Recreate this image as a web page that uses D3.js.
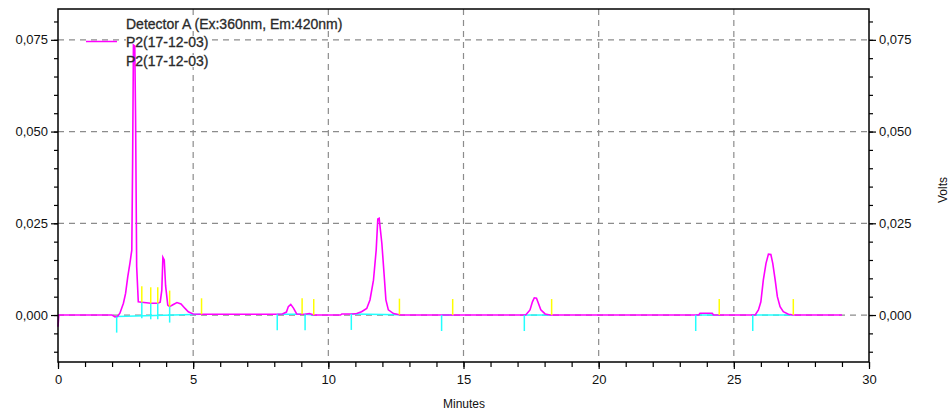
<!DOCTYPE html>
<html>
<head>
<meta charset="utf-8">
<script src="https://cdn.jsdelivr.net/npm/d3@7"></script>
<style>
body { margin: 0; background: #fff; }
text { font-family: "Liberation Sans", Arial, sans-serif; }
</style>
</head>
<body>
<script>
// chromatogram trace, [minutes, volts]
var trace = [
    [0, -0.0032], [0.03, 0], [2.0, 0], [2.11, -0.0005], [2.2, -0.0004], [2.29, 0.0005],
    [2.42, 0.0032], [2.50, 0.0059], [2.58, 0.0104], [2.66, 0.0141], [2.73, 0.0177],
    [2.76, 0.0414], [2.79, 0.0736], [2.84, 0.0733], [2.87, 0.0537], [2.91, 0.0132],
    [2.97, 0.0036], [3.10, 0.0035], [3.43, 0.0032], [3.69, 0.0032], [3.78, 0.0035],
    [3.84, 0.0068], [3.88, 0.0157], [3.93, 0.0150], [3.98, 0.0080], [4.06, 0.0027],
    [4.13, 0.0023], [4.25, 0.0028], [4.40, 0.0034], [4.55, 0.0030], [4.70, 0.0018],
    [4.82, 0.0009], [5.0, 0.0003], [5.31, 0.0002], [8.1, 0.0002], [8.3, 0.0003],
    [8.45, 0.0008], [8.52, 0.0023], [8.61, 0.0029], [8.71, 0.0019], [8.83, 0.0003],
    [9.03, 0.0002], [9.14, 0.0002], [9.3, 0.0004], [9.46, 0], [10.45, 0], [10.5, 0.0003],
    [10.9, 0.0003], [11.05, 0.0004], [11.23, 0.0009], [11.42, 0.0018], [11.54, 0.0041],
    [11.67, 0.0095], [11.77, 0.0177], [11.83, 0.0262], [11.88, 0.0264], [11.98, 0.0195],
    [12.06, 0.0114], [12.13, 0.0041], [12.22, 0.0014], [12.41, 0.0004], [12.63, 0.0001],
    [12.7, 0], [17.3, 0], [17.46, 0.0014], [17.55, 0.0036], [17.62, 0.0047], [17.70, 0.0046],
    [17.77, 0.0032], [17.86, 0.0014], [18.02, 0.0003], [18.2, 0], [23.7, 0], [23.75, 0.0005],
    [24.2, 0.0005], [24.25, 0], [25.79, 0], [25.91, 0.0014], [26.0, 0.0036], [26.09, 0.0095],
    [26.19, 0.0141], [26.28, 0.0166], [26.37, 0.0165], [26.44, 0.0141], [26.53, 0.0095],
    [26.61, 0.005], [26.71, 0.0023], [26.83, 0.0009], [27.02, 0.0002], [27.2, 0], [29.0, 0]
];

// integration marks (minutes)
var peakStarts = [2.17, 3.10, 3.43, 3.69, 4.13, 8.11, 9.14, 10.85, 14.19, 17.25, 23.59, 25.70];
var peakEnds = [3.10, 3.43, 3.69, 4.13, 5.31, 9.03, 9.46, 12.63, 14.60, 18.26, 24.46, 27.20];
var baselines = [[2.17, 5.31], [8.11, 9.03], [9.14, 9.46], [10.85, 12.63], [14.19, 14.60],
    [17.25, 18.26], [23.59, 24.46], [25.70, 27.20]];

var xTicks = [0, 5, 10, 15, 20, 25, 30];
var yTicks = [0, 0.025, 0.05, 0.075];
var legendLines = ["Detector A (Ex:360nm, Em:420nm)", "P2(17-12-03)", "P2(17-12-03)"];

var width = 951, height = 412;
var plot = {left: 58, right: 869, top: 9, bottom: 362};

var svg = d3.select('body').append('svg')
    .attr('width', width)
    .attr('height', height);

var x = d3.scaleLinear().domain([0, 30]).range([plot.left, plot.right]);
var y = d3.scaleLinear().domain([-0.0128, 0.0834]).range([plot.bottom, plot.top]);

var fmt = function (d) { return d3.format('.3f')(d).replace('.', ','); };

function traceAt(t) {
    var i = d3.bisector(function (d) { return d[0]; }).left(trace, t);
    if (i <= 0) return trace[0][1];
    if (i >= trace.length) return trace[trace.length - 1][1];
    var a = trace[i - 1], b = trace[i];
    return a[1] + (b[1] - a[1]) * (t - a[0]) / (b[0] - a[0]);
}

// grid
var grid = svg.append('g')
    .attr('stroke', '#8c8c8c')
    .attr('stroke-width', 1.2)
    .attr('stroke-dasharray', '6,5');
grid.selectAll('.gx').data(xTicks.slice(1, -1)).enter().append('line')
    .attr('x1', function (d) { return x(d); }).attr('x2', function (d) { return x(d); })
    .attr('y1', plot.top).attr('y2', plot.bottom);
grid.selectAll('.gy').data(yTicks).enter().append('line')
    .attr('x1', plot.left).attr('x2', plot.right)
    .attr('y1', function (d) { return y(d); }).attr('y2', function (d) { return y(d); });

// legend background (hides grid behind the text)
var legend = svg.append('g');
var legendBg = legend.append('g');

// baselines
svg.append('g').selectAll('line').data(baselines).enter().append('line')
    .attr('x1', function (d) { return x(d[0]); })
    .attr('x2', function (d) { return x(d[1]); })
    .attr('y1', function (d) { return y(traceAt(d[0])); })
    .attr('y2', function (d) { return y(traceAt(d[1])); })
    .attr('stroke', '#22ffff')
    .attr('stroke-width', 1.5);

// trace
svg.append('path')
    .datum(trace)
    .attr('fill', 'none')
    .attr('stroke', '#ff00ff')
    .attr('stroke-width', 1.6)
    .attr('d', d3.line()
        .x(function (d) { return x(d[0]); })
        .y(function (d) { return y(d[1]); }));

// start marks (cyan, down) and end marks (yellow, up)
svg.append('g').selectAll('line').data(peakStarts).enter().append('line')
    .attr('x1', function (d) { return x(d); }).attr('x2', function (d) { return x(d); })
    .attr('y1', function (d) { return y(traceAt(d)); })
    .attr('y2', function (d) { return y(traceAt(d)) + 16; })
    .attr('stroke', '#22ffff')
    .attr('stroke-width', 1.5);
svg.append('g').selectAll('line').data(peakEnds).enter().append('line')
    .attr('x1', function (d) { return x(d); }).attr('x2', function (d) { return x(d); })
    .attr('y1', function (d) { return y(traceAt(d)); })
    .attr('y2', function (d) { return y(traceAt(d)) - 16; })
    .attr('stroke', '#ffff00')
    .attr('stroke-width', 1.5);

// frame
svg.append('rect')
    .attr('x', plot.left).attr('y', plot.top)
    .attr('width', plot.right - plot.left).attr('height', plot.bottom - plot.top)
    .attr('fill', 'none').attr('stroke', '#000').attr('stroke-width', 1.5);

// axes
var yMinor = d3.range(-0.010, 0.0801, 0.005);
var xMinor = d3.range(0, 31, 1);

function styleAxis(g) {
    g.select('.domain').remove();
    g.selectAll('line').attr('stroke', '#000').attr('stroke-width', 1.2);
    g.selectAll('text').attr('fill', '#111').style('font-size', '13px');
}

svg.append('g').attr('transform', 'translate(' + plot.left + ',0)')
    .call(d3.axisLeft(y).tickValues(yMinor).tickSize(4).tickFormat(''))
    .call(styleAxis);
svg.append('g').attr('transform', 'translate(' + plot.left + ',0)')
    .call(d3.axisLeft(y).tickValues(yTicks).tickSize(7).tickPadding(3).tickFormat(fmt))
    .call(styleAxis);
svg.append('g').attr('transform', 'translate(' + plot.right + ',0)')
    .call(d3.axisRight(y).tickValues(yMinor).tickSize(4).tickFormat(''))
    .call(styleAxis);
svg.append('g').attr('transform', 'translate(' + plot.right + ',0)')
    .call(d3.axisRight(y).tickValues(yTicks).tickSize(7).tickPadding(3).tickFormat(fmt))
    .call(styleAxis);
svg.append('g').attr('transform', 'translate(0,' + plot.bottom + ')')
    .call(d3.axisBottom(x).tickValues(xMinor).tickSize(5).tickFormat(''))
    .call(styleAxis);
svg.append('g').attr('transform', 'translate(0,' + plot.bottom + ')')
    .call(d3.axisBottom(x).tickValues(xTicks).tickSize(7).tickPadding(6).tickFormat(d3.format('d')))
    .call(styleAxis);

// axis titles
svg.append('text')
    .attr('x', 464).attr('y', 408)
    .attr('text-anchor', 'middle')
    .style('font-size', '12px')
    .attr('fill', '#111')
    .text('Minutes');
svg.append('text')
    .attr('transform', 'translate(947,190) rotate(-90)')
    .attr('text-anchor', 'middle')
    .style('font-size', '12px')
    .attr('fill', '#111')
    .text('Volts');

// legend
var legendY = [29, 47, 66];
legend.selectAll('text').data(legendLines).enter().append('text')
    .attr('x', 126)
    .attr('y', function (d, i) { return legendY[i]; })
    .style('font-size', '14px')
    .attr('fill', '#2a2a2a')
    .attr('stroke', '#2a2a2a')
    .attr('stroke-width', 0.3)
    .text(function (d) { return d; });
legend.selectAll('text').each(function () {
    var b = this.getBBox();
    legendBg.append('rect')
        .attr('x', b.x).attr('y', b.y + 2)
        .attr('width', b.width).attr('height', b.height - 4)
        .attr('fill', '#fff');
});
legend.raise();
legendBg.lower();
legend.insert('line', ':first-child')
    .attr('x1', 86).attr('x2', 117)
    .attr('y1', 41.5).attr('y2', 41.5)
    .attr('stroke', '#ff00ff')
    .attr('stroke-width', 1.5);
// keep white boxes under the trace
svg.node().insertBefore(legendBg.node(), svg.select('path').node());
</script>
</body>
</html>
